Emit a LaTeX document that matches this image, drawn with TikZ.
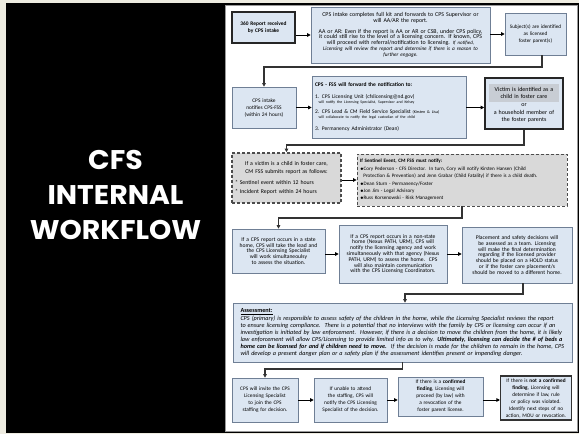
\documentclass[tikz,border=0pt]{standalone}
\usepackage{fontspec}
\setmainfont{Carlito}
\newfontfamily\titlefont{Poppins}
\usetikzlibrary{arrows.meta,calc}
\definecolor{bgbeige}{HTML}{EEECE1}
\definecolor{boxfill}{HTML}{DCE6F2}
\definecolor{boxline}{HTML}{6F7F95}
\definecolor{dashfill}{HTML}{D9D9D9}
\definecolor{elbowc}{HTML}{333333}
\definecolor{hlgray}{HTML}{C8CDD4}
\tikzset{
  box/.style={draw=boxline, line width=0.6pt, fill=boxfill, rectangle, inner sep=2pt,
              align=center, font=\fontsize{5.6}{5.8}\selectfont},
  lowbox/.style={box, font=\fontsize{5.3}{7}\selectfont},
  thickbox/.style={box, draw=black!85, line width=1.6pt},
  dbox/.style={box, fill=dashfill, draw=black!70, dash pattern=on 3pt off 2pt},
  arr/.style={-{Triangle[length=3.5pt,width=3.5pt]}, line width=0.9pt, black},
  elbow/.style={arr, line width=1.2pt, draw=elbowc},
}
\begin{document}
\hyphenpenalty=10000 \exhyphenpenalty=10000
\setlength{\parindent}{0pt}
\begin{tikzpicture}[x=1pt,y=-1pt]
\useasboundingbox (0,0) rectangle (579,434);
\fill[bgbeige] (0,0) rectangle (579,434);
\fill[black] (6,3) rectangle (579,433);
\filldraw[fill=white, draw=black!40, line width=0.4pt] (225,5) rectangle (577,431);

\node[text=white, align=center, inner sep=0pt,
      font=\titlefont\bfseries\fontsize{27}{35}\selectfont] (title) at (115.5,195)
      {\scalebox{1.05}[1]{CFS}\\\scalebox{1.05}[1]{INTERNAL}\\\scalebox{1.05}[1]{WORKFLOW}};

% row 1
\node[thickbox, minimum width=63pt, minimum height=31pt, text width=57pt,
      font=\bfseries\fontsize{5.4}{6.4}\selectfont] (n1) at (263.5,27.5)
      {360 Report received\\by CPS intake};
\node[box, minimum width=179pt, minimum height=56pt, text width=175pt,
      font=\fontsize{5.9}{5.8}\selectfont] (n2) at (400.5,35)
      {CPS intake completes full kit and forwards to CPS Supervisor or\\
       will AA/AR the report.\\[4.5pt]
       AA or AR: Even if the report is AA or AR or CSB, under CPS policy,\\
       it could still rise to the level of a licensing concern. If known, CPS\\
       will proceed with referral/notification to licensing. {\fontsize{4.9}{5.8}\selectfont\itshape If notified,}\\
       {\fontsize{5.3}{5.8}\selectfont\itshape Licensing will review the report and determine if there is a reason to}\\
       {\fontsize{5.3}{5.8}\selectfont\itshape further engage.}};
\node[box, minimum width=61pt, minimum height=42pt, text width=57pt,
      font=\fontsize{5.2}{6.6}\selectfont] (n3) at (535.5,34)
      {Subject(s) are identified\\as licensed\\foster parent(s)};

% row 2
\node[box, minimum width=64pt, minimum height=41pt, text width=60pt,
      font=\fontsize{5.4}{7}\selectfont] (n4) at (264,107.5)
      {CPS intake\\notifies CPS-FSS\\(within 24 hours)};
\node[box, minimum width=154pt, minimum height=62pt, text width=148pt, align=left,
      font=\fontsize{5.5}{5.6}\selectfont] (n5) at (389,107)
      {\textbf{CPS - FSS will forward the notification to:}\\[6pt]
       1. CPS Licensing Unit (cfslicensing@nd.gov)\\
       {\fontsize{3.9}{4.4}\selectfont\ \ will notify the Licensing Specialist, Supervisor and Kelsey}\\[3.5pt]
       2. CPS Lead \& CM Field Service Specialist {\fontsize{4.1}{4.4}\selectfont (Kirsten \& Lisa)}\\
       {\fontsize{3.9}{4.4}\selectfont\ \ will collaborate to notify the legal custodian of the child}\\[6pt]
       3. Permanency Administrator (Dean)};
\node[thickbox, minimum width=78pt, minimum height=51pt, text width=72pt,
      font=\fontsize{6}{7.6}\selectfont] (n6) at (524,103.5)
      {\colorbox{hlgray}{\parbox{64pt}{\centering\fontsize{6}{7.2}\selectfont Victim is identified as a\\child in foster care}}\\[1pt]
       or\\a household member of\\the foster parents};

% row 3
\node[dbox, line width=1.6pt, minimum width=109pt, minimum height=50pt, text width=103pt,
      font=\fontsize{5.8}{7.6}\selectfont] (n7) at (286.5,178)
      {If a victim is a child in foster care,\\CM FSS submits report as follows:\\[3pt]
       \makebox[103pt][l]{* Sentinel event within 12 hours}\\[1.5pt]
       \makebox[103pt][l]{* Incident Report within 24 hours}};
\node[dbox, line width=0.8pt, minimum width=210pt, minimum height=52pt, text width=204pt,
      align=left, font=\fontsize{5.1}{7.4}\selectfont] (n8) at (462,180)
      {\textbf{If Sentinel Event, CM FSS must notify:}\\
       $\bullet$Cory Pederson - CFS Director.\ \ In turn, Cory will notify Kirsten Hansen (Child\\
       \ \ Protection \& Prevention) and Jenn Grabar (Child Fatality) if there is a child death.\\
       $\bullet$Dean Sturn - Permanency/Foster\\
       $\bullet$Jon Jim - Legal Advisory\\
       $\bullet$Russ Korsenowski - Risk Management};

% row 4
\node[box, minimum width=93pt, minimum height=44pt, text width=84pt] (n9) at (278.5,251)
      {If a CPS report occurs in a state home, CPS will take the lead and the CPS Licensing Specialist will work simultaneoulsy to assess the situation.};
\node[box, minimum width=108pt, minimum height=58pt, text width=98pt] (n10) at (393,254)
      {If a CPS report occurs in a non-state home (Nexus PATH, URM), CPS will notify the licensing agency and work simultaneously with that agency (Nexus PATH, URM) to assess the home.\ \ CPS will also maintain communication with the CPS Licensing Coordinators.};
\node[box, minimum width=110pt, minimum height=56pt, text width=96pt] (n11) at (517,255)
      {Placement and safety decisions will be assessed as a team. Licensing will make the final determination regarding if the licensed provider should be placed on a HOLD status or if the foster care placement/s should be moved to a different home.};

% assessment
\node[box, minimum width=339pt, minimum height=59pt, text width=324pt, align=left,
      font=\fontsize{6.2}{7}\selectfont] (n12) at (402.5,332.5)
      {\textbf{\underline{Assessment:}}\\[0.5pt]
       \textit{CPS (primary) is responsible to assess safety of the children in the home, while the Licensing Specialist reviews the report to ensure licensing compliance.\ \ There is a potential that no interviews with the family by CPS or licensing can occur if an investigation is initiated by law enforcement.\ \ However, if there is a decision to move the children from the home, it is likely law enforcement will allow CPS/Licensing to provide limited info as to why. \textbf{Ultimately, licensing can decide the \# of beds a home can be licensed for and if children need to move.}\ \ If the decision is made for the children to remain in the home, CPS will develop a present danger plan or a safety plan if the assessment identifies present or impending danger.}};

% bottom row
\node[lowbox, minimum width=66pt, minimum height=44pt, text width=58pt] (n13) at (265,400)
      {CPS will invite the CPS Licensing Specialist to join the CPS staffing for decision.};
\node[lowbox, minimum width=73pt, minimum height=44pt, text width=60pt] (n14) at (350.5,400)
      {If unable to attend the staffing, CPS will notify the CPS Licensing Specialist of the decision.};
\node[lowbox, minimum width=85pt, minimum height=39pt, text width=62pt] (n15) at (440.5,396.5)
      {If there is a \textbf{confirmed finding}, Licensing will proceed (by law) with a revocation of the foster parent license.};
\node[lowbox, draw=black!80, line width=1.1pt, minimum width=70pt, minimum height=44pt, text width=67pt] (n16) at (536,398)
      {If there is \textbf{not a confirmed finding}, Licensing will determine if law, rule or policy was violated.\ \ Identify next steps of no action, MOU or revocation.};

% straight arrows
\draw[arr] (n1.east |- n2.west) -- (n2.west);
\draw[arr] (n2.east |- n3.west) -- (n3.west);
\draw[arr] (n4.east) -- (n4.east -| n5.west);
\draw[arr] (n5.east |- n4.east) -- (n4.east -| n6.west);
\draw[arr] (n7.east |- n8.west) -- (n8.west);
\draw[arr] (n9.east |- n10.west) -- (n10.west);
\draw[arr] (n10.east) -- (n10.east -| n11.west);
\draw[arr] (n13.east) -- (n13.east -| n14.west);
\draw[arr] (n14.east) -- (n14.east -| n15.west);
\draw[arr] (n15.east |- n14.east) -- (n14.east -| n16.west);

% elbow connectors
\draw[elbow] ([xshift=6.5pt]n3.south) -- ([xshift=6.5pt]n3.south |- 0,67) -| (n4.north);
\draw[elbow] (n6.south) -- (n6.south |- 0,145) -| (n7.north);
\draw[elbow] (n8.south) -- (n8.south |- 0,218) -| (n9.north);
\draw[elbow] ([xshift=6pt]n11.south) -- ([xshift=6pt]n11.south |- 0,294) -| ([xshift=2.5pt]n12.north);
\draw[elbow] (n12.south) -- (n12.south |- 0,369) -| (n13.north);
\end{tikzpicture}
\end{document}
